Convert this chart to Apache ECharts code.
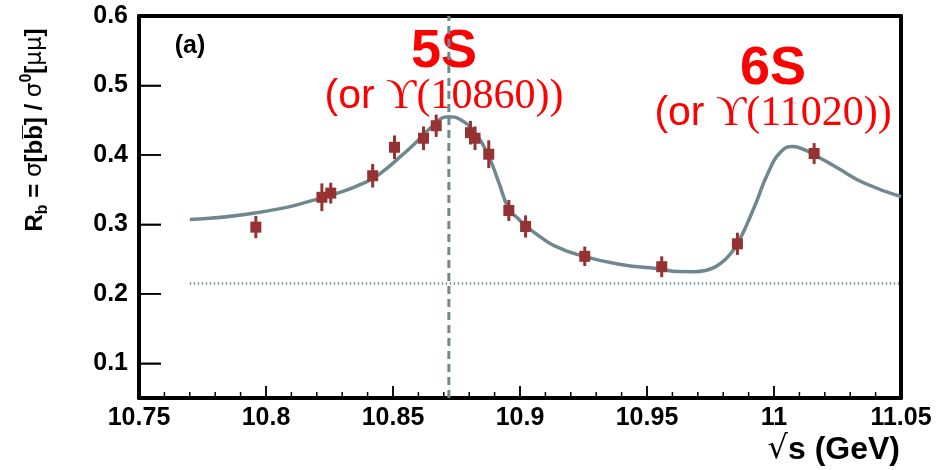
<!DOCTYPE html>
<html>
<head>
<meta charset="utf-8">
<script src="https://cdn.jsdelivr.net/npm/echarts@6/dist/echarts.min.js"></script>
<style>
  html, body { margin: 0; padding: 0; background: #fff; }
  #main { width: 951px; height: 470px; }
</style>
</head>
<body>
<div id="main"></div>
<script>
//----------------------Data----------------------
let x_tick_values = [10.75, 10.8, 10.85, 10.9, 10.95, 11, 11.05];
let x_minor_values = [10.76, 10.77, 10.78, 10.79, 10.81, 10.82, 10.83, 10.84, 10.86, 10.87, 10.88, 10.89,
    10.91, 10.92, 10.93, 10.94, 10.96, 10.97, 10.98, 10.99, 11.01, 11.02, 11.03, 11.04];
let y_tick_values = [0.1, 0.2, 0.3, 0.4, 0.5, 0.6];
// measured points: sqrt(s), R_b, error
let point_x = [10.796, 10.822, 10.8255, 10.842, 10.8506, 10.862, 10.867, 10.8805, 10.8823, 10.8877, 10.8956, 10.9022, 10.9255, 10.9558, 10.9856, 11.0158];
let point_y = [0.296, 0.339, 0.345, 0.370, 0.411, 0.424, 0.442, 0.432, 0.424, 0.401, 0.320, 0.297, 0.254, 0.239, 0.272, 0.402];
let point_err = [0.016, 0.020, 0.015, 0.017, 0.017, 0.017, 0.016, 0.017, 0.017, 0.020, 0.015, 0.016, 0.014, 0.015, 0.016, 0.015];
// fit curve
let curve_x = [10.770, 10.7963, 10.8213, 10.8397, 10.8463, 10.8529, 10.8581, 10.8647, 10.872, 10.8766, 10.8818, 10.8871, 10.8915, 10.8956, 10.8995, 10.9022, 10.908, 10.9134, 10.9252, 10.9397, 10.9555, 10.962, 10.9686, 10.973, 10.9765, 10.9792, 10.9818, 10.9857, 10.9923, 10.9976, 11.0028, 11.0075, 11.0121, 11.016, 11.0252, 11.0357, 11.05];
let curve_y = [0.307, 0.3167, 0.3375, 0.3615, 0.377, 0.3975, 0.4145, 0.4385, 0.455, 0.4505, 0.4336, 0.4024, 0.362, 0.322, 0.3075, 0.298, 0.282, 0.2695, 0.254, 0.2423, 0.2355, 0.232, 0.2318, 0.2335, 0.238, 0.2445, 0.2533, 0.2726, 0.3254, 0.3736, 0.4048, 0.412, 0.4072, 0.400, 0.3808, 0.3592, 0.340];
let peak_5s = 10.872;
let base_level = 0.215;
let base_start = 10.77;

//--------------------Colors--------------------
let fit_color = "#6f878f";
let point_color = "#973232";
let label_red = "#ff0000";

let chart = echarts.init(document.getElementById("main"));

let points = point_x.map((x, i) => [x, point_y[i], point_err[i]]);
let curve = curve_x.map((x, i) => [x, curve_y[i]]);
let x_ticks = x_tick_values.map(v => [v, 12]).concat(x_minor_values.map(v => [v, 6]));

function tick_label(v) {
    return String(parseFloat(v.toFixed(2)));
}

let frame_line = {show: true, lineStyle: {color: "#000", width: 4}};

let option = {
    animation: false,
    grid: {left: 139, right: 50, top: 16, bottom: 72},
    xAxis: [
        {
            type: "value", min: 10.75, max: 11.05, interval: 0.05,
            axisLine: frame_line,
            axisTick: {show: true, inside: true, length: 12, lineStyle: {color: "#000", width: 1.5}},
            axisLabel: {
                formatter: tick_label, margin: 8,
                fontFamily: "Liberation Sans", fontWeight: "bold", fontSize: 25, color: "#000"
            },
            splitLine: {show: false}
        },
        {
            type: "value", position: "top", min: 10.75, max: 11.05, interval: 0.05,
            axisLine: frame_line, axisTick: {show: false}, axisLabel: {show: false}, splitLine: {show: false}
        }
    ],
    yAxis: [
        {
            type: "value", min: 0.05, max: 0.6,
            axisLine: frame_line,
            axisTick: {show: true, inside: true, length: 22, lineStyle: {color: "#000", width: 1.5}},
            axisLabel: {
                customValues: y_tick_values, formatter: tick_label, margin: 11,
                fontFamily: "Liberation Sans", fontWeight: "bold", fontSize: 25, color: "#000"
            },
            splitLine: {show: false}
        },
        {
            type: "value", position: "right", min: 0.05, max: 0.6,
            axisLine: frame_line, axisTick: {show: false}, axisLabel: {show: false}, splitLine: {show: false}
        }
    ],
    series: [
        {
            type: "line", data: curve, showSymbol: false, smooth: 0.5,
            lineStyle: {color: fit_color, width: 3.5}, z: 2
        },
        {
            type: "line", data: [[peak_5s, 0.05], [peak_5s, 0.6]], showSymbol: false,
            lineStyle: {color: fit_color, width: 3, type: [8, 5]}, z: 1
        },
        {
            type: "line", data: [[base_start, base_level], [11.05, base_level]], showSymbol: false,
            lineStyle: {color: fit_color, width: 2.5, type: [1.3, 2.7]}, z: 1
        },
        // x axis ticks (major + minor), pointing inward
        {
            type: "custom", data: x_ticks,
            renderItem: function (params, api) {
                let p = api.coord([api.value(0), 0.05]);
                return {
                    type: "line",
                    shape: {x1: p[0], y1: p[1], x2: p[0], y2: p[1] - api.value(1)},
                    style: {stroke: "#000", lineWidth: 1.5}
                };
            }
        },
        // y axis ticks, pointing inward
        {
            type: "custom", data: y_tick_values.map(v => [v]),
            renderItem: function (params, api) {
                let p = api.coord([10.75, api.value(0)]);
                return {
                    type: "line",
                    shape: {x1: p[0], y1: p[1], x2: p[0] + 22, y2: p[1]},
                    style: {stroke: "#000", lineWidth: 1.5}
                };
            }
        },
        // error bars
        {
            type: "custom", data: points, z: 3,
            renderItem: function (params, api) {
                let top = api.coord([api.value(0), api.value(1) + api.value(2)]);
                let bot = api.coord([api.value(0), api.value(1) - api.value(2)]);
                return {
                    type: "line",
                    shape: {x1: top[0], y1: top[1], x2: bot[0], y2: bot[1]},
                    style: {stroke: point_color, lineWidth: 3}
                };
            }
        },
        {
            type: "scatter", data: points, symbol: "rect", symbolSize: 11,
            itemStyle: {color: point_color, opacity: 1}, z: 4
        }
    ],
    graphic: [
        {
            type: "text", x: 190, y: 46,
            style: {text: "(a)", fontFamily: "Liberation Sans", fontWeight: "bold", fontSize: 25, fill: "#000", align: "center", verticalAlign: "middle"}
        },
        {
            type: "text", x: 444, y: 52,
            style: {text: "5S", fontFamily: "Liberation Sans", fontWeight: "bold", fontSize: 54, fill: label_red, align: "center", verticalAlign: "middle"}
        },
        {
            type: "text", x: 444, y: 97,
            style: {
                text: "{s|(or }{t|\u03D2(10860))}", align: "center", verticalAlign: "middle",
                rich: {
                    s: {fontFamily: "Liberation Sans", fontSize: 41, fill: label_red},
                    t: {fontFamily: "Liberation Serif, DejaVu Serif", fontSize: 42, fill: label_red}
                }
            }
        },
        {
            type: "text", x: 773, y: 69,
            style: {text: "6S", fontFamily: "Liberation Sans", fontWeight: "bold", fontSize: 54, fill: label_red, align: "center", verticalAlign: "middle"}
        },
        {
            type: "text", x: 773, y: 114,
            style: {
                text: "{s|(or }{t|\u03D2(11020))}", align: "center", verticalAlign: "middle",
                rich: {
                    s: {fontFamily: "Liberation Sans", fontSize: 41, fill: label_red},
                    t: {fontFamily: "Liberation Serif, DejaVu Serif", fontSize: 42, fill: label_red}
                }
            }
        },
        {
            type: "text", x: 900, y: 450,
            style: {
                text: "{r|\u221A}{b|s (GeV)}", align: "right", verticalAlign: "middle",
                rich: {
                    r: {fontFamily: "DejaVu Sans", fontSize: 32, fill: "#000"},
                    b: {fontFamily: "Liberation Sans", fontWeight: "bold", fontSize: 32, fill: "#000"}
                }
            }
        },
        {
            type: "text", x: 35, y: 130, rotation: Math.PI / 2,
            style: {
                text: "{m|R}{sub|b}{m| = }{g|\u03C3}{m|[bb\u0305] / }{g|\u03C3}{sup|0}{m|[}{g|\u03BC\u03BC}{m|]}",
                align: "center", verticalAlign: "middle",
                rich: {
                    m: {fontFamily: "Liberation Sans", fontWeight: "bold", fontSize: 24, fill: "#000", lineHeight: 32},
                    g: {fontFamily: "DejaVu Sans", fontSize: 23, fill: "#000", lineHeight: 32},
                    sub: {fontFamily: "Liberation Sans", fontWeight: "bold", fontSize: 16, fill: "#000", lineHeight: 32, verticalAlign: "bottom"},
                    sup: {fontFamily: "Liberation Sans", fontWeight: "bold", fontSize: 16, fill: "#000", lineHeight: 32, verticalAlign: "top"}
                }
            }
        }
    ]
};
chart.setOption(option);
</script>
</body>
</html>
